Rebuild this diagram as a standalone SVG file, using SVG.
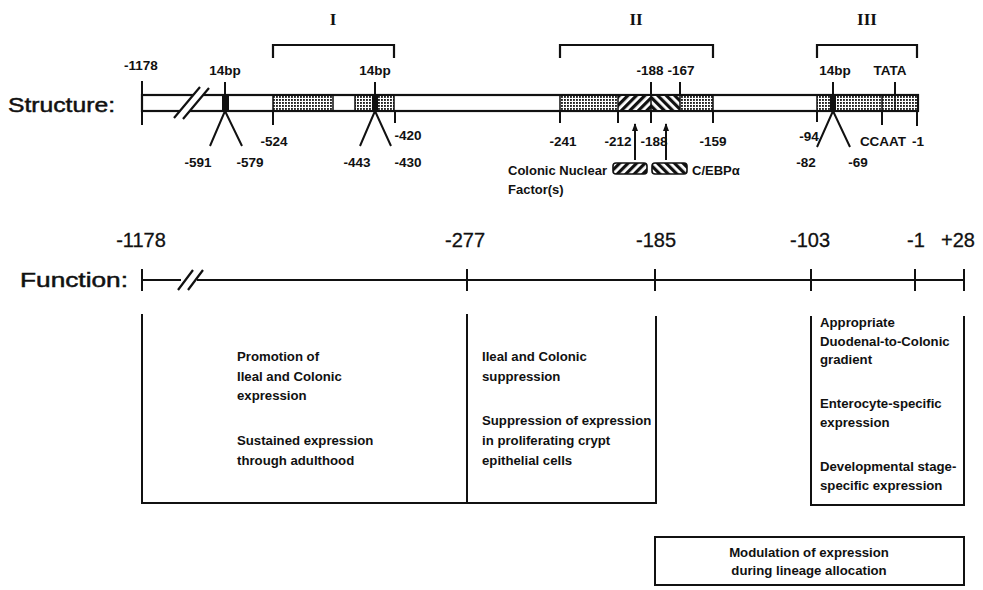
<svg xmlns="http://www.w3.org/2000/svg" width="983" height="590" viewBox="0 0 983 590">
<style>
.ln{stroke:#111;stroke-width:2.2;fill:none}
.tk{stroke:#111;stroke-width:2;fill:none}
.dv{stroke:#111;stroke-width:1.5;fill:none}
.lbl{font-family:"Liberation Sans",Arial,sans-serif;font-weight:bold;font-size:13.5px;fill:#111;text-anchor:middle}
.leg{font-family:"Liberation Sans",Arial,sans-serif;font-weight:bold;font-size:13px;fill:#111}
.big{font-family:"Liberation Sans",Arial,sans-serif;font-size:21px;fill:#111;stroke:#111;stroke-width:0.5}
.num{font-family:"Liberation Sans",Arial,sans-serif;font-size:20px;fill:#111;text-anchor:middle;stroke:#111;stroke-width:0.3}
.box{font-family:"Liberation Sans",Arial,sans-serif;font-weight:bold;font-size:13.2px;fill:#111}
.rom{font-family:"Liberation Serif","Times New Roman",serif;font-weight:bold;font-size:17px;fill:#111;text-anchor:middle}
</style>
<defs>
<pattern id="dots" width="3" height="3" patternUnits="userSpaceOnUse"><rect width="3" height="3" fill="#fff"/><rect width="1.9" height="1.9" fill="#222"/></pattern>
<pattern id="hf" width="6" height="6" patternUnits="userSpaceOnUse" patternTransform="rotate(45)"><rect width="6" height="6" fill="#fff"/><rect width="3.2" height="6" fill="#111"/></pattern>
<pattern id="hb" width="6" height="6" patternUnits="userSpaceOnUse" patternTransform="rotate(-45)"><rect width="6" height="6" fill="#fff"/><rect width="3.2" height="6" fill="#111"/></pattern>
<marker id="arr" viewBox="0 0 8 6" refX="7" refY="3" markerWidth="8" markerHeight="6" markerUnits="userSpaceOnUse" orient="auto"><path d="M0,0 L8,3 L0,6 z" fill="#111"/></marker>
</defs>

<text class="big" x="8" y="112" textLength="107" lengthAdjust="spacingAndGlyphs">Structure:</text>
<text class="big" x="20" y="287" textLength="108" lengthAdjust="spacingAndGlyphs">Function:</text>

<g id="region-I">
<path class="ln" d="M273,58 V45 H394 V58"/>
<text class="rom" x="333" y="25">I</text>
</g>
<g id="region-II">
<path class="ln" d="M560,58 V45 H713 V58"/>
<text class="rom" x="636" y="25">II</text>
</g>
<g id="region-III">
<path class="ln" d="M817,58 V45 H917 V58"/>
<text class="rom" x="867" y="25">III</text>
</g>

<g id="structure-bar">
<rect x="142" y="95" width="776" height="16" fill="#fff" stroke="#111" stroke-width="2.2"/>
<g fill="url(#dots)">
<rect x="273" y="96" width="60" height="14"/>
<rect x="355" y="96" width="18" height="14"/>
<rect x="378" y="96" width="16" height="14"/>
<rect x="560" y="96" width="58" height="14"/>
<rect x="680" y="96" width="33" height="14"/>
<rect x="817" y="96" width="13" height="14"/>
<rect x="836" y="96" width="46" height="14"/>
<rect x="882" y="96" width="13" height="14"/>
<rect x="895" y="96" width="22" height="14"/>
</g>
<rect x="618" y="96" width="33" height="14" fill="url(#hf)"/>
<rect x="651" y="96" width="29" height="14" fill="url(#hb)"/>
<g fill="#111">
<rect x="222" y="95" width="7" height="16"/>
<rect x="372" y="95" width="6" height="16"/>
<rect x="830" y="95" width="6" height="16"/>
</g>
<path class="dv" d="M273,95V111 M333,95V111 M355,95V111 M394,95V111 M560,95V111 M618,95V111 M651,95V111 M680,95V111 M713,95V111 M817,95V111 M882,95V111 M895,95V111"/>
<polygon points="174,118 200,87 209,88 183,119" fill="#fff"/>
<path class="ln" d="M174,118 L200,87 M183,119 L209,88"/>
</g>

<g id="structure-ticks">
<path class="tk" d="M142,81V125 M225,82V95 M273,111V125 M375,82V95 M395,111V123 M560,111V123 M618,111V123 M651,82V95 M651,111V123 M680,82V95 M713,111V123 M817,111V122 M833,82V95 M882,111V125 M895,82V95 M917,111V126"/>
<path class="tk" d="M225,111 L210,146 M225,111 L242,146 M375,111 L360,146 M375,111 L391,146 M833,111 L817,147 M833,111 L850,147"/>
</g>

<g id="structure-labels">
<text class="lbl" x="141" y="70">-1178</text>
<text class="lbl" x="225" y="75">14bp</text>
<text class="lbl" x="375" y="75">14bp</text>
<text class="lbl" x="835" y="75">14bp</text>
<text class="lbl" x="650" y="75">-188</text>
<text class="lbl" x="681" y="75">-167</text>
<text class="lbl" x="890" y="75">TATA</text>
<text class="lbl" x="274" y="146">-524</text>
<text class="lbl" x="408" y="140">-420</text>
<text class="lbl" x="563" y="146">-241</text>
<text class="lbl" x="618" y="146">-212</text>
<text class="lbl" x="654" y="146">-188</text>
<text class="lbl" x="713" y="146">-159</text>
<text class="lbl" x="809" y="141">-94</text>
<text class="lbl" x="883" y="146">CCAAT</text>
<text class="lbl" x="918" y="146">-1</text>
<text class="lbl" x="198" y="167">-591</text>
<text class="lbl" x="250" y="167">-579</text>
<text class="lbl" x="357" y="167">-443</text>
<text class="lbl" x="408" y="167">-430</text>
<text class="lbl" x="806" y="167">-82</text>
<text class="lbl" x="858" y="167">-69</text>
</g>

<g id="legend">
<path class="tk" d="M635,160V124" marker-end="url(#arr)"/>
<path class="tk" d="M666,160V124" marker-end="url(#arr)"/>
<rect x="613" y="163" width="34" height="11" rx="3" fill="url(#hf)" stroke="#111" stroke-width="1.6"/>
<rect x="652" y="163" width="35" height="11" rx="3" fill="url(#hb)" stroke="#111" stroke-width="1.6"/>
<text class="leg" x="508" y="175">Colonic Nuclear</text>
<text class="leg" x="508" y="194">Factor(s)</text>
<text class="leg" x="692" y="175">C/EBPα</text>
</g>

<g id="function-axis">
<path class="ln" d="M142,280H181 M197,280H964"/>
<path class="ln" d="M178,290 L193,270 M188,290 L203,270"/>
<path class="tk" d="M142,269V291 M467,269V291 M655,269V291 M811,269V291 M915,269V291 M964,269V291"/>
<text class="num" x="141" y="247">-1178</text>
<text class="num" x="465" y="247">-277</text>
<text class="num" x="656" y="247">-185</text>
<text class="num" x="810" y="247">-103</text>
<text class="num" x="916" y="247">-1</text>
<text class="num" x="958" y="247">+28</text>
</g>

<g id="box-promotion">
<path class="tk" d="M142,314V503H467V314"/>
<text class="box" x="237" y="361">Promotion of</text>
<text class="box" x="237" y="381">Ileal and Colonic</text>
<text class="box" x="237" y="400">expression</text>
<text class="box" x="237" y="445">Sustained expression</text>
<text class="box" x="237" y="465">through adulthood</text>
</g>

<g id="box-suppression">
<path class="tk" d="M467,503H656V316"/>
<text class="box" x="482" y="361">Ileal and Colonic</text>
<text class="box" x="482" y="381">suppression</text>
<text class="box" x="482" y="425">Suppression of expression</text>
<text class="box" x="482" y="445">in proliferating crypt</text>
<text class="box" x="482" y="465">epithelial cells</text>
</g>

<g id="box-gradient">
<path class="tk" d="M811,316V505H964V316"/>
<text class="box" x="820" y="327">Appropriate</text>
<text class="box" x="820" y="346">Duodenal-to-Colonic</text>
<text class="box" x="820" y="364">gradient</text>
<text class="box" x="820" y="408">Enterocyte-specific</text>
<text class="box" x="820" y="427">expression</text>
<text class="box" x="820" y="471">Developmental stage-</text>
<text class="box" x="820" y="490">specific expression</text>
</g>

<g id="box-modulation">
<rect x="655" y="537" width="309" height="48" fill="none" stroke="#111" stroke-width="2"/>
<text class="box" x="809" y="557" style="text-anchor:middle">Modulation of expression</text>
<text class="box" x="809" y="575" style="text-anchor:middle">during lineage allocation</text>
</g>
</svg>
